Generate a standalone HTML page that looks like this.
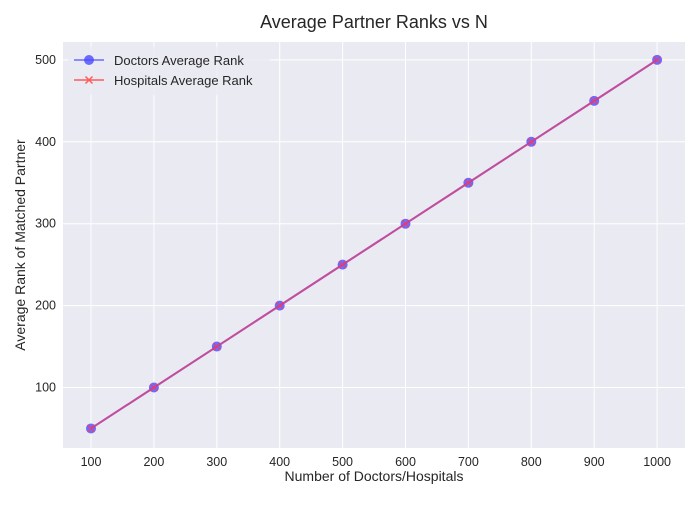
<!DOCTYPE html>
<html><head><meta charset="utf-8"><style>
body{margin:0;background:#fff;font-family:"Liberation Sans",sans-serif}
</style></head><body>
<svg id="chart" width="700" height="500" xmlns="http://www.w3.org/2000/svg" font-family="Liberation Sans, sans-serif">
<rect x="63" y="42" width="622" height="406" fill="#eaeaf2"/>
<g id="grid"></g>
<g id="series"></g>
<g id="ticks"></g>
<text x="374" y="28" text-anchor="middle" font-size="18" fill="#262626">Average Partner Ranks vs N</text>
<text x="374" y="481" text-anchor="middle" font-size="14" fill="#262626">Number of Doctors/Hospitals</text>
<text transform="translate(25,245) rotate(-90)" text-anchor="middle" font-size="14" fill="#262626">Average Rank of Matched Partner</text>
<g>
<rect x="68" y="47" width="202" height="48" fill="#eaeaf2" opacity="0.8" rx="3"/>
<line x1="74" y1="60" x2="104" y2="60" stroke="#4a4aff" stroke-width="1.5" opacity="0.8"/>
<circle cx="89" cy="60" r="5" fill="#4a4aff" opacity="0.8"/>
<text x="114" y="65" font-size="13" fill="#262626">Doctors Average Rank</text>
<line x1="74" y1="80" x2="104" y2="80" stroke="#ff5a5a" stroke-width="1.5"/>
<path d="M85.5 76.5l7 7M92.5 76.5l-7 7" stroke="#ff5a5a" stroke-width="1.5"/>
<text x="114" y="85" font-size="13" fill="#262626">Hospitals Average Rank</text>
</g>
</svg>
<script>
const categories=[100,200,300,400,500,600,700,800,900,1000];
const doctorsValues=[50,100,150,200,250,300,350,400,450,500];
const hospitalsValues=[50,100,150,200,250,300,350,400,450,500];
const xTicks=[100,200,300,400,500,600,700,800,900,1000];
const yTicks=[100,200,300,400,500];
const NS="http://www.w3.org/2000/svg";
const X=v=>91+(v-100)*0.629;
const Y=v=>387.5-(v-100)*0.819;
function mk(t,a,p){const e=document.createElementNS(NS,t);for(const k in a)e.setAttribute(k,a[k]);p.appendChild(e);return e;}
const grid=document.getElementById('grid'),ticks=document.getElementById('ticks'),ser=document.getElementById('series');
xTicks.forEach(v=>{
 const l=mk('line',{x1:X(v),x2:X(v),y1:42,y2:448,stroke:'#fff','stroke-width':1},grid);
 
 
 const t=mk('text',{x:X(v),y:466,'text-anchor':'middle','font-size':12.5,fill:'#262626'},ticks);
 t.textContent=v;
 
 
});
yTicks.forEach(v=>{
 const l=mk('line',{x1:63,x2:685,y1:Y(v),y2:Y(v),stroke:'#fff','stroke-width':1},grid);
 
 
 const t=mk('text',{x:56,y:Y(v)+4,'text-anchor':'end','font-size':12.5,fill:'#262626'},ticks);
 t.textContent=v;
 
 
});
const dl=mk('polyline',{points:categories.map((c,i)=>X(c)+','+Y(doctorsValues[i])).join(' '),fill:'none',stroke:'#4a4aff','stroke-width':2,opacity:0.8},ser);


categories.forEach((c,i)=>{
 const p=mk('circle',{cx:X(c),cy:Y(doctorsValues[i]),r:5,fill:'#4a4aff',opacity:0.8},ser);
 
 
});
const hl=mk('polyline',{points:categories.map((c,i)=>X(c)+','+Y(hospitalsValues[i])).join(' '),fill:'none',stroke:'#ff3a5a','stroke-width':2,opacity:0.6},ser);


categories.forEach((c,i)=>{
 const x=X(c),y=Y(hospitalsValues[i]);
 const p=mk('path',{d:`M${x-3.5} ${y-3.5}l7 7M${x+3.5} ${y-3.5}l-7 7`,stroke:'#ff3a5a','stroke-width':1.5,opacity:0.7},ser);
 
 
});
</script>
</body></html>
